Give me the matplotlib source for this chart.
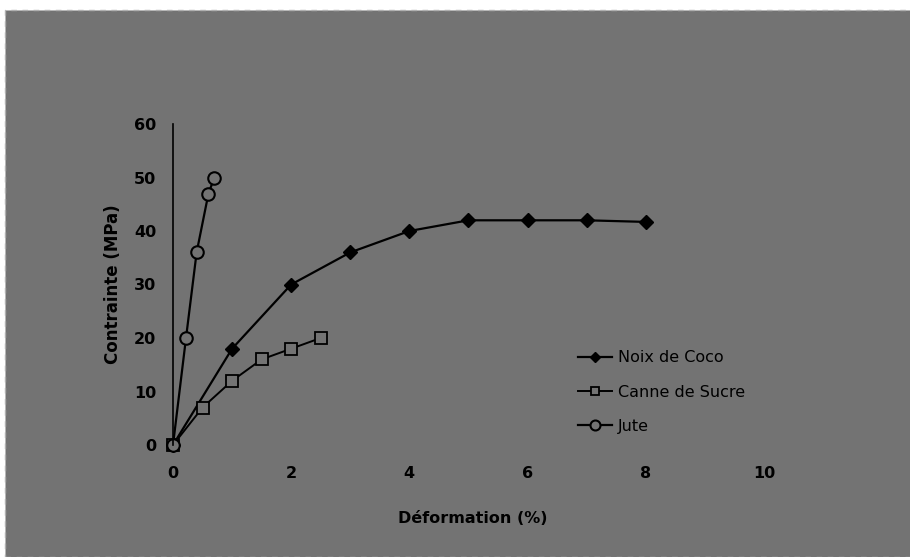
import matplotlib.pyplot as plt
from matplotlib.patches import Rectangle

# data
coco_x = [0, 1, 2, 3, 4, 5, 6, 7, 8]
coco_y = [0, 18, 30, 36, 40, 42, 42, 42, 41.7]
canne_x = [0, 0.5, 1, 1.5, 2, 2.5]
canne_y = [0, 7, 12, 16, 18, 20]
jute_x = [0, 0.22, 0.4, 0.6, 0.7]
jute_y = [0, 20, 36, 47, 50]
xticks = [0, 2, 4, 6, 8, 10]
yticks = [0, 10, 20, 30, 40, 50, 60]

bg = '#737373'
fig = plt.figure(figsize=(9.1, 5.57), dpi=100, facecolor='white')
fig.patches.append(Rectangle((5/910, 0), 1, 1 - 10/557, transform=fig.transFigure,
                             facecolor=bg, edgecolor='#b0b0b0', lw=1, ls=(0, (4, 4)), zorder=-10))

ax = fig.add_axes([173/910, 1 - 445/557, 650/910, 321/557])
ax.set_facecolor('none')
ax.set_xlim(0, 11)
ax.set_ylim(0, 60)
for s in ['top', 'right', 'bottom']:
    ax.spines[s].set_visible(False)
ax.spines['left'].set_color('black')
ax.spines['left'].set_linewidth(1.2)

ax.plot(coco_x, coco_y, color='black', lw=1.6, marker='D', ms=7,
        mfc='black', mec='black', label='Noix de Coco', clip_on=False)
ax.plot(canne_x, canne_y, color='black', lw=1.4, marker='s', ms=8,
        mfc=bg, mec='black', mew=1.3, label='Canne de Sucre', clip_on=False)
ax.plot(jute_x, jute_y, color='black', lw=1.6, marker='o', ms=9,
        mfc=bg, mec='black', mew=1.5, label='Jute', clip_on=False)

ax.set_xticks(xticks)
ax.set_yticks(yticks)
ax.tick_params(length=0, labelsize=11.5, colors='black')
ax.tick_params(axis='x', pad=15)
ax.tick_params(axis='y', pad=12)
for t in ax.get_xticklabels() + ax.get_yticklabels():
    t.set_fontweight('bold')

ax.set_xlabel('Déformation (%)', fontsize=11.5, fontweight='bold')
ax.xaxis.set_label_coords((473 - 173) / 650, -(511 - 445) / 321)
ax.set_ylabel('Contrainte (MPa)', fontsize=12, fontweight='bold')
ax.yaxis.set_label_coords(-(173 - 122) / 650, 0.5)

leg = ax.legend(loc='upper left', bbox_to_anchor=((564 - 173) / 650, 1 - (336 - 124) / 321),
                frameon=False, fontsize=11.5, handlelength=2.1, labelspacing=1.2,
                handletextpad=0.4, markerscale=0.8)

plt.savefig('out.png', dpi=100, facecolor=fig.get_facecolor())
